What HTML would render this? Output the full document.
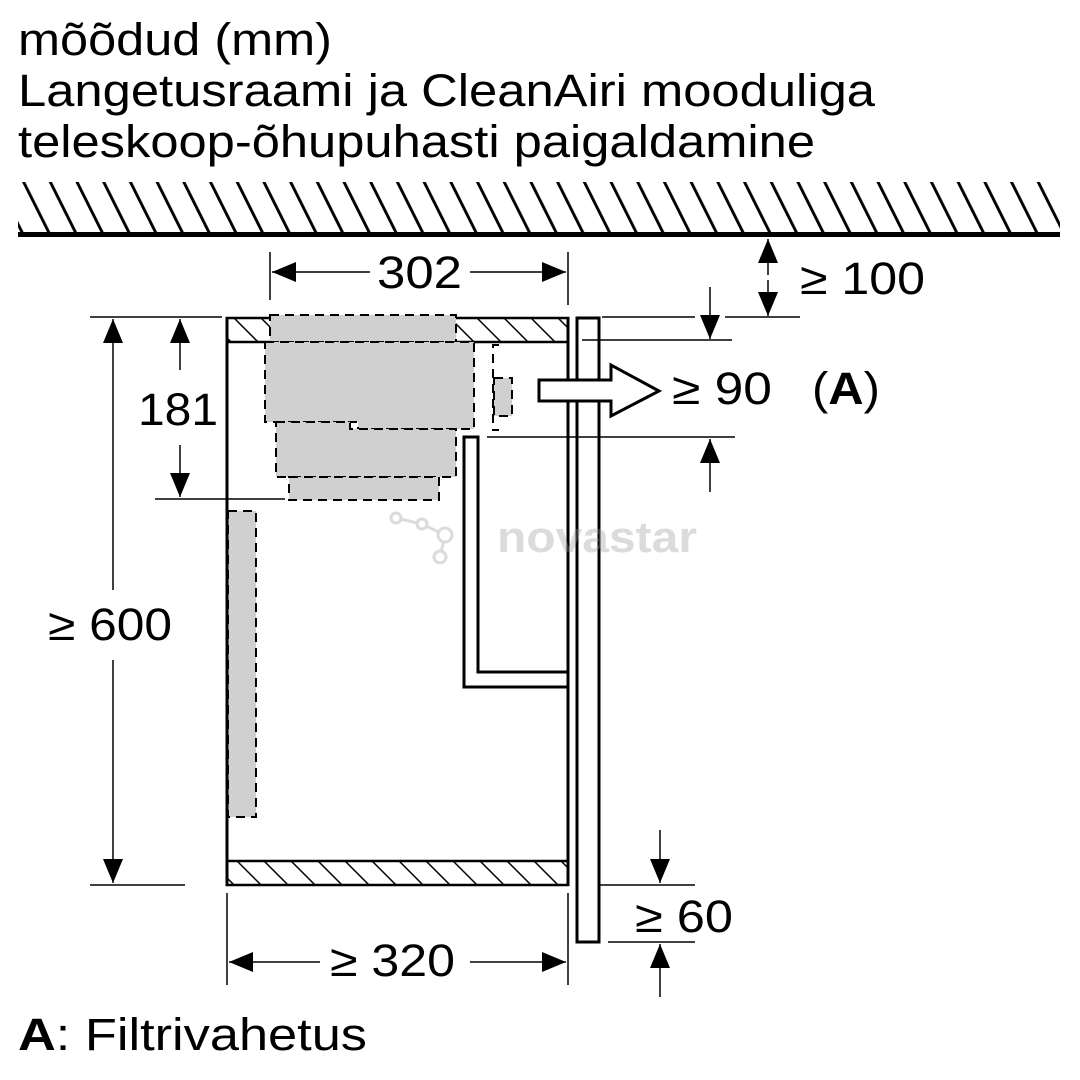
<!DOCTYPE html>
<html><head><meta charset="utf-8"><style>
html,body{margin:0;padding:0;background:#fff}
svg{display:block}
text{font-family:"Liberation Sans",sans-serif;fill:#000}
</style></head><body>
<svg width="1080" height="1080" viewBox="0 0 1080 1080" xmlns="http://www.w3.org/2000/svg">
<defs>
<pattern id="h1" width="26.7" height="60" patternUnits="userSpaceOnUse" patternTransform="translate(22,182) skewX(26.57)">
<line x1="1.5" y1="0" x2="1.5" y2="60" stroke="#000" stroke-width="3.5"/>
</pattern>
<pattern id="h2" width="27" height="40" patternUnits="userSpaceOnUse" patternTransform="translate(232,317) skewX(45)">
<line x1="1" y1="0" x2="1" y2="40" stroke="#000" stroke-width="2.2"/>
</pattern>
<marker id="a" viewBox="0 0 24 20" refX="24" refY="10" markerWidth="24" markerHeight="20" markerUnits="userSpaceOnUse" orient="auto">
<path d="M0,0 L24,10 L0,20 Z" fill="#000"/>
</marker>
</defs>
<g font-size="45">
<text x="18" y="55" textLength="314" lengthAdjust="spacingAndGlyphs">mõõdud (mm)</text>
<text x="18" y="106" textLength="857" lengthAdjust="spacingAndGlyphs">Langetusraami ja CleanAiri mooduliga</text>
<text x="18" y="157" textLength="797" lengthAdjust="spacingAndGlyphs">teleskoop-õhupuhasti paigaldamine</text>
</g>

<!-- ceiling -->
<rect x="18" y="182" width="1042" height="51" fill="url(#h1)"/>
<rect x="18" y="232" width="1042" height="5" fill="#000"/>

<g stroke="#000" fill="none">
<rect x="227" y="318" width="341" height="24" fill="url(#h2)" stroke-width="2.5"/>
<rect x="227" y="861" width="341" height="24" fill="url(#h2)" stroke-width="2.5"/>
</g>
<!-- gray module boxes -->
<g fill="#d0d0d0" stroke="#000" stroke-width="2" stroke-dasharray="9,6">
<rect x="270" y="315" width="186" height="27"/>
<path d="M265,342 H474 V429 H358 V422 H265 Z"/>
<path d="M276,422 H350 V429 H456 V477 H276 Z"/>
<rect x="289" y="477" width="150" height="23"/>
<rect x="228" y="511" width="28" height="306"/>
<rect x="494" y="378" width="18" height="38"/>
<path d="M499,345 H493 V430 H499" fill="none"/>
</g>
<g stroke="#000" fill="none" stroke-width="3">
<line x1="227" y1="317" x2="227" y2="886"/>
<line x1="568" y1="317" x2="568" y2="886"/>
<rect x="577" y="318" width="22" height="624" fill="#fff"/>
<path d="M464,670 V437 H478 V672 H568 M464,670 V687 H568" fill="#fff"/>
</g>
<path d="M539,380 H611 V365 L659,391 L611,416 V401 H539 Z" fill="#fff" stroke="#000" stroke-width="3"/>

<g stroke="#000" stroke-width="1.5" fill="none">
<line x1="270" y1="252" x2="270" y2="300"/>
<line x1="568" y1="252" x2="568" y2="305"/>
<line x1="370" y1="272" x2="272" y2="272" marker-end="url(#a)"/>
<line x1="470" y1="272" x2="566" y2="272" marker-end="url(#a)"/>
<line x1="768" y1="275" x2="768" y2="239" marker-end="url(#a)"/>
<line x1="768" y1="280" x2="768" y2="316" marker-end="url(#a)"/>
<line x1="725" y1="317" x2="800" y2="317"/>
<line x1="602" y1="317" x2="695" y2="317"/>
<line x1="710" y1="287" x2="710" y2="339" marker-end="url(#a)"/>
<line x1="582" y1="340" x2="732" y2="340"/>
<line x1="487" y1="437" x2="735" y2="437"/>
<line x1="710" y1="492" x2="710" y2="439" marker-end="url(#a)"/>
<line x1="180" y1="370" x2="180" y2="319" marker-end="url(#a)"/>
<line x1="180" y1="445" x2="180" y2="497" marker-end="url(#a)"/>
<line x1="155" y1="499" x2="285" y2="499"/>
<line x1="90" y1="317" x2="222" y2="317"/>
<line x1="90" y1="885" x2="185" y2="885"/>
<line x1="113" y1="590" x2="113" y2="319" marker-end="url(#a)"/>
<line x1="113" y1="660" x2="113" y2="883" marker-end="url(#a)"/>
<line x1="227" y1="893" x2="227" y2="985"/>
<line x1="568" y1="893" x2="568" y2="985"/>
<line x1="320" y1="962" x2="229" y2="962" marker-end="url(#a)"/>
<line x1="470" y1="962" x2="566" y2="962" marker-end="url(#a)"/>
<line x1="600" y1="885" x2="695" y2="885"/>
<line x1="608" y1="942" x2="695" y2="942"/>
<line x1="660" y1="830" x2="660" y2="883" marker-end="url(#a)"/>
<line x1="660" y1="997" x2="660" y2="944" marker-end="url(#a)"/>
</g>

<g opacity="0.35">
<path d="M396,518 L422,524 L445,535 L440,557" stroke="#999" stroke-width="3" fill="none"/>
<circle cx="396" cy="518" r="5" fill="#fff" stroke="#999" stroke-width="3"/>
<circle cx="422" cy="524" r="5" fill="#fff" stroke="#999" stroke-width="3"/>
<circle cx="445" cy="535" r="7" fill="#fff" stroke="#999" stroke-width="3"/>
<circle cx="440" cy="557" r="6" fill="#fff" stroke="#999" stroke-width="3"/>
<text x="497" y="552" font-size="44" font-weight="bold" textLength="200" lengthAdjust="spacingAndGlyphs" style="fill:#999">novastar</text>
</g>

<g font-size="45">
<text x="377" y="288" textLength="85" lengthAdjust="spacingAndGlyphs">302</text>
<text x="800" y="294" textLength="125" lengthAdjust="spacingAndGlyphs">≥ 100</text>
<text x="672" y="404" textLength="100" lengthAdjust="spacingAndGlyphs">≥ 90</text>
<text x="812" y="404" textLength="68" lengthAdjust="spacingAndGlyphs">(<tspan font-weight="bold">A</tspan>)</text>
<text x="138" y="425" textLength="80" lengthAdjust="spacingAndGlyphs">181</text>
<text x="48" y="640" textLength="124" lengthAdjust="spacingAndGlyphs">≥ 600</text>
<text x="330" y="976" textLength="125" lengthAdjust="spacingAndGlyphs">≥ 320</text>
<text x="635" y="932" textLength="98" lengthAdjust="spacingAndGlyphs">≥ 60</text>
<text x="18" y="1050" textLength="349" lengthAdjust="spacingAndGlyphs"><tspan font-weight="bold">A</tspan>:  Filtrivahetus</text>
</g>
</svg>
</body></html>
